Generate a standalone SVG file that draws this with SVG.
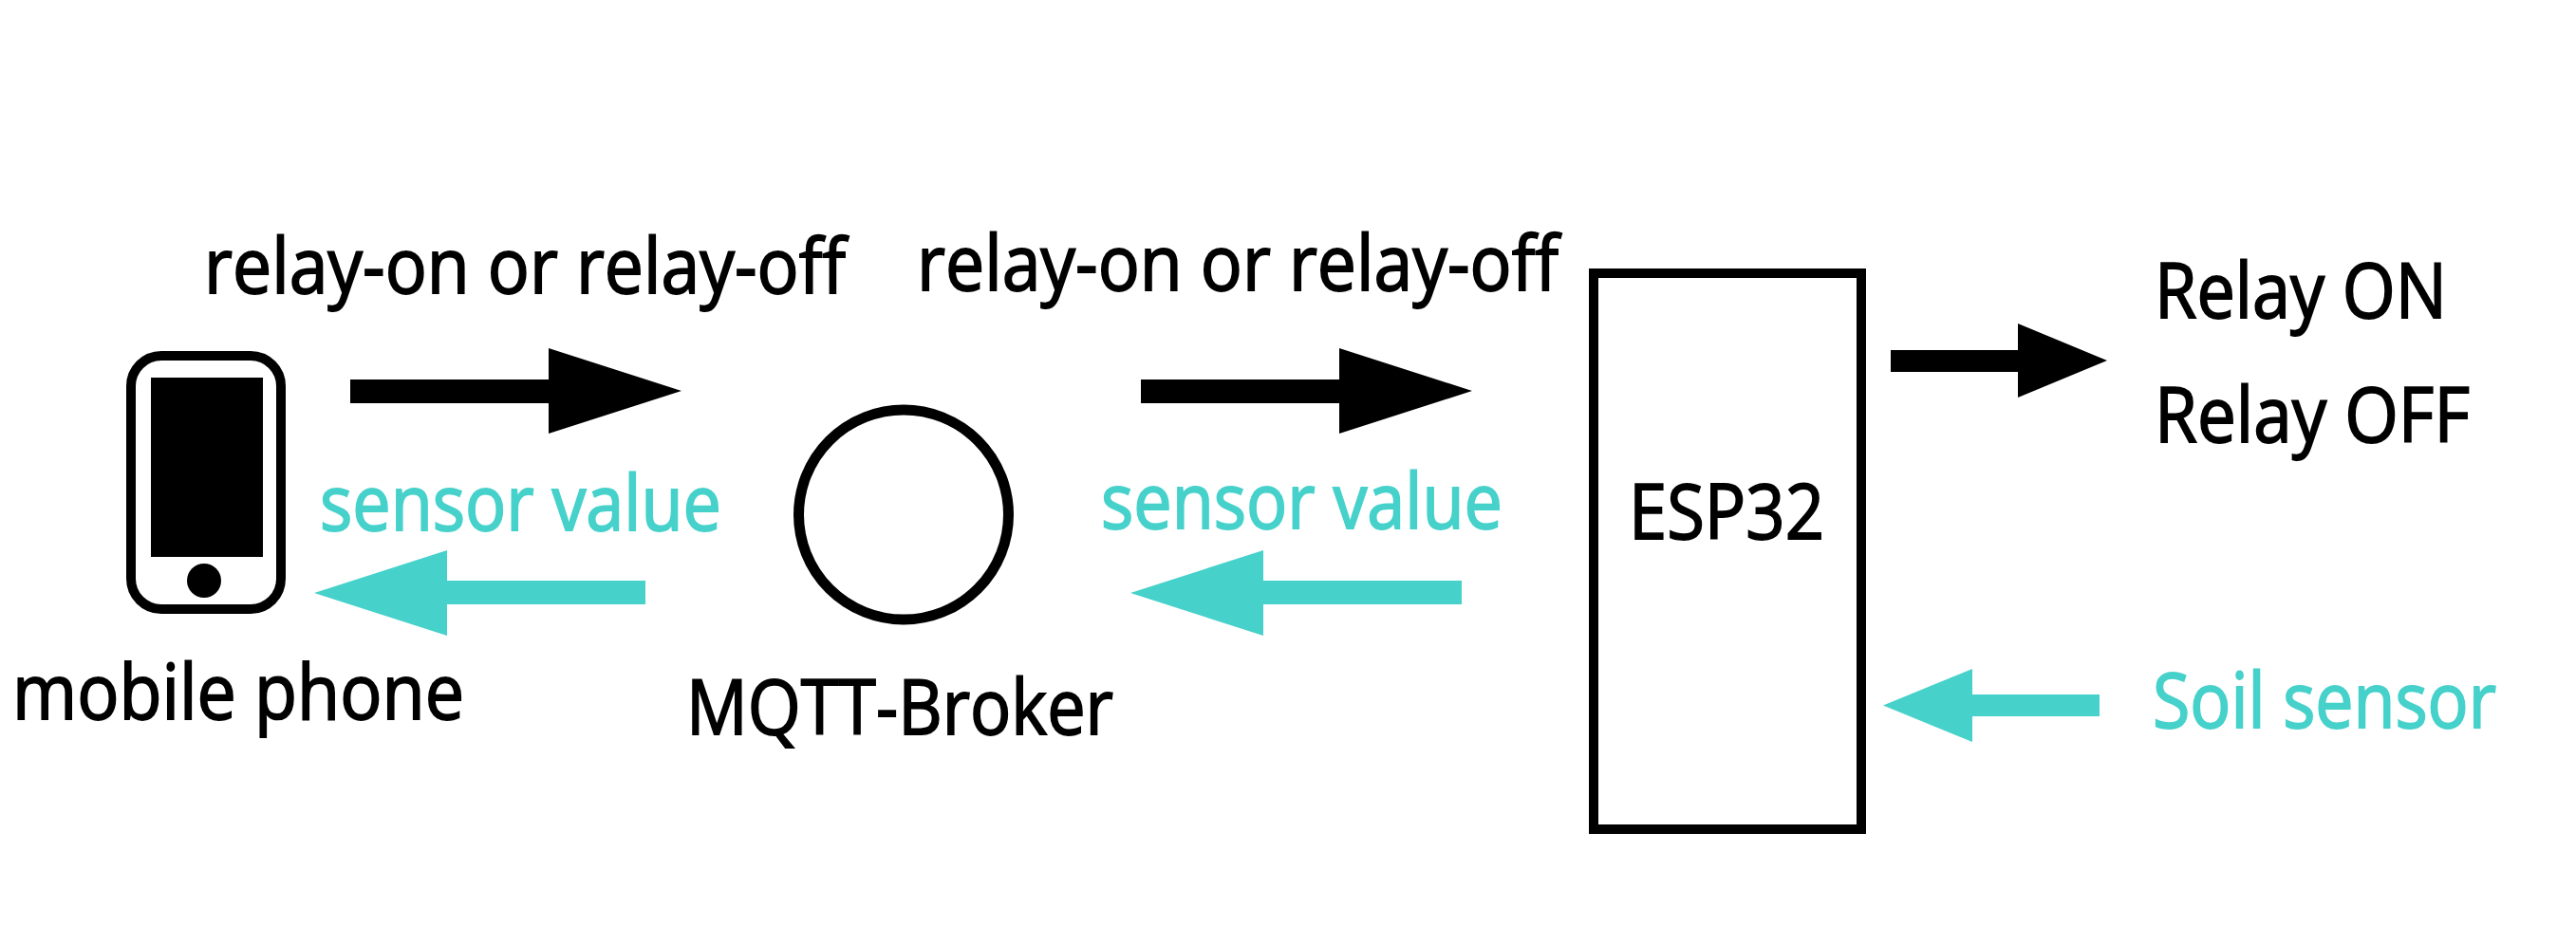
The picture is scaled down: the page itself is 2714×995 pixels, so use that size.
<svg xmlns="http://www.w3.org/2000/svg" width="2714" height="995" viewBox="0 0 2714 995">
<style>
text{font-family:"Open Sans","Noto Sans","Liberation Sans",sans-serif;font-size:80px;fill:#000;stroke:#000;stroke-width:1.800}
text.t{fill:#46d1cb;stroke:#46d1cb}
.k{fill:#000}
.c{fill:#46d1cb}
.o{fill:#fff;stroke:#000;stroke-width:10}
.r{fill:#fff;stroke:#000;stroke-width:11}
</style>
<rect width="2714" height="995" fill="#fff"/>
<g id="connectors">
<polygon class="k" points="369,400 578,400 578,367 718,412 578,457 578,425 369,425"/>
<polygon class="c" points="680,612 471,612 471,580 331,625 471,670 471,637 680,637"/>
<polygon class="k" points="1202,400 1411,400 1411,367 1551,412 1411,457 1411,425 1202,425"/>
<polygon class="c" points="1540,612 1331,612 1331,580 1191,625 1331,670 1331,637 1540,637"/>
<polygon class="k" points="1992,369 2126,369 2126,341 2220,380 2126,419 2126,392 1992,392"/>
<polygon class="c" points="2212,732 2078,732 2078,705 1984,743.500 2078,782 2078,755 2212,755"/>
</g>
<g id="label-relay-1"><text x="215" y="309" textLength="676" lengthAdjust="spacingAndGlyphs">relay-on or relay-off</text></g>
<g id="label-relay-2"><text x="966" y="306" textLength="676" lengthAdjust="spacingAndGlyphs">relay-on or relay-off</text></g>
<g id="label-sensor-1"><text class="t" x="337" y="559" textLength="423" lengthAdjust="spacingAndGlyphs">sensor value</text></g>
<g id="label-sensor-2"><text class="t" x="1160" y="557" textLength="423" lengthAdjust="spacingAndGlyphs">sensor value</text></g>
<g id="mobile-phone">
<rect class="o" x="138" y="375" width="158" height="267" rx="32" ry="32"/>
<rect class="k" x="159" y="398" width="118" height="189"/>
<circle class="k" cx="215" cy="612" r="18"/>
<text x="13" y="758" textLength="476" lengthAdjust="spacingAndGlyphs">mobile phone</text>
</g>
<g id="mqtt-broker">
<circle class="r" cx="952" cy="542.500" r="110.500"/>
<text x="723" y="774" textLength="450" lengthAdjust="spacingAndGlyphs">MQTT-Broker</text>
</g>
<g id="esp32">
<rect class="o" x="1679" y="288" width="282" height="586"/>
<text x="1716" y="568" textLength="206" lengthAdjust="spacingAndGlyphs">ESP32</text>
</g>
<g id="relay-output">
<text x="2270" y="335" textLength="308" lengthAdjust="spacingAndGlyphs">Relay ON</text>
<text x="2270" y="466" textLength="332" lengthAdjust="spacingAndGlyphs">Relay OFF</text>
</g>
<g id="soil-sensor">
<text class="t" x="2268" y="767" textLength="362" lengthAdjust="spacingAndGlyphs">Soil sensor</text>
</g>
</svg>
